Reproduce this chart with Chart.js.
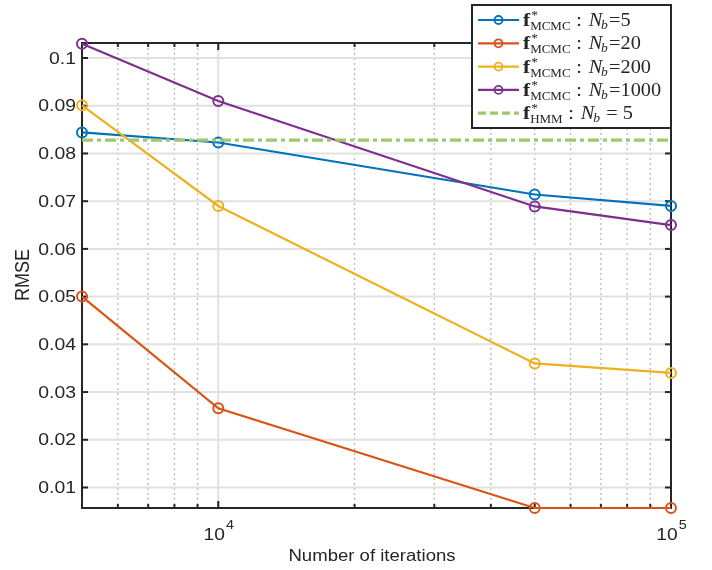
<!DOCTYPE html>
<html>
<head>
<meta charset="utf-8">
<script src="https://cdn.jsdelivr.net/npm/chart.js@4.4.1/dist/chart.umd.min.js"></script>
<style>
  html, body { margin: 0; padding: 0; background: #fff; }
</style>
</head>
<body>
<canvas id="rmseChart" width="712" height="570"></canvas>
<script>
// iterations on the x axis (log scale)
const iterations = [5000, 10000, 50000, 100000];

// RMSE per number of bins
const rmseNb5 = [0.0844, 0.0823, 0.0714, 0.0690];
const rmseNb20 = [0.0500, 0.0266, 0.0057, 0.0057];
const rmseNb200 = [0.0901, 0.0690, 0.0360, 0.0340];
const rmseNb1000 = [0.1030, 0.0910, 0.0689, 0.0650];
const rmseHmm = 0.0828;

const yTicks = [0.01, 0.02, 0.03, 0.04, 0.05, 0.06, 0.07, 0.08, 0.09, 0.1];
const xMajorTicks = [10000, 100000];
const xMinorTicks = [6000, 7000, 8000, 9000, 20000, 30000, 40000, 50000, 60000, 70000, 80000, 90000];

const seriesSub = ['MCMC', 'MCMC', 'MCMC', 'MCMC', 'HMM'];
const seriesNb = ['=5', '=20', '=200', '=1000', ' = 5'];

const colors = ['#0072BD', '#D95319', '#EDB120', '#7E2F8E', '#a0c76c'];

const toPoints = vals => iterations.map((it, i) => ({ x: it, y: vals[i] }));

const mcmcSet = (vals, i) => ({
    label: 'f*_' + seriesSub[i] + ' : N_b' + seriesNb[i],
    data: toPoints(vals),
    borderColor: colors[i],
    borderWidth: 2.2,
    pointRadius: 5,
    pointBorderWidth: 2,
    pointBackgroundColor: 'rgba(0,0,0,0)',
    pointBorderColor: colors[i],
    tension: 0,
    clip: false,
    order: 10 - i
});

const datasets = [
    mcmcSet(rmseNb5, 0),
    mcmcSet(rmseNb20, 1),
    mcmcSet(rmseNb200, 2),
    mcmcSet(rmseNb1000, 3),
    {
        label: 'f*_HMM : N_b = 5',
        data: [{ x: iterations[0], y: rmseHmm }, { x: iterations[iterations.length - 1], y: rmseHmm }],
        borderColor: colors[4],
        borderWidth: 3.2,
        borderDash: [11, 4, 4, 4],
        pointRadius: 0,
        clip: false,
        order: 5
    }
];

const textInk = '#262626';
const sans = '"Liberation Sans", Arial, sans-serif';

function seg(ctx, x1, y1, x2, y2) {
    ctx.beginPath();
    ctx.moveTo(x1, y1);
    ctx.lineTo(x2, y2);
    ctx.stroke();
}

// text stretched horizontally by sx
function wideText(ctx, text, x, y, font, align, sx) {
    ctx.save();
    ctx.translate(x, y);
    ctx.scale(sx, 1);
    ctx.font = font;
    ctx.textAlign = align;
    ctx.fillText(text, 0, 0);
    ctx.restore();
}

const axesFrame = {
    id: 'axesFrame',
    beforeDatasetsDraw(chart) {
        const { ctx, chartArea: a, scales: { x, y } } = chart;
        ctx.save();
        // dotted minor grid
        ctx.strokeStyle = '#bdbdbd';
        ctx.lineWidth = 1.4;
        ctx.setLineDash([2, 3]);
        xMinorTicks.forEach(v => {
            const px = x.getPixelForValue(v);
            seg(ctx, px, a.top, px, a.bottom);
        });
        ctx.setLineDash([]);
        // major grid
        ctx.strokeStyle = '#e1e1e1';
        ctx.lineWidth = 2;
        xMajorTicks.forEach(v => {
            const px = x.getPixelForValue(v);
            seg(ctx, px, a.top, px, a.bottom);
        });
        yTicks.forEach(v => {
            const py = y.getPixelForValue(v);
            seg(ctx, a.left, py, a.right, py);
        });
        // box
        ctx.strokeStyle = textInk;
        ctx.lineWidth = 2;
        ctx.strokeRect(a.left, a.top, a.right - a.left, a.bottom - a.top);
        // inward ticks on all four sides
        yTicks.forEach(v => {
            const py = y.getPixelForValue(v);
            seg(ctx, a.left, py, a.left + 6, py);
            seg(ctx, a.right, py, a.right - 6, py);
        });
        xMajorTicks.forEach(v => {
            const px = x.getPixelForValue(v);
            seg(ctx, px, a.bottom, px, a.bottom - 7);
            seg(ctx, px, a.top, px, a.top + 7);
        });
        xMinorTicks.forEach(v => {
            const px = x.getPixelForValue(v);
            seg(ctx, px, a.bottom, px, a.bottom - 4);
            seg(ctx, px, a.top, px, a.top + 4);
        });
        ctx.restore();
    },
    afterDraw(chart) {
        const { ctx, scales: { x, y } } = chart;
        ctx.save();
        ctx.fillStyle = textInk;
        ctx.textBaseline = 'middle';
        yTicks.forEach(v => {
            wideText(ctx, String(v), 76, y.getPixelForValue(v) + 1, '17px ' + sans, 'right', 1.14);
        });
        // 10^n labels
        const sx = 1.2;
        ctx.textBaseline = 'alphabetic';
        xMajorTicks.forEach(v => {
            const px = x.getPixelForValue(v);
            const exp = String(Math.round(Math.log10(v)));
            ctx.font = '16px ' + sans;
            const wBase = ctx.measureText('10').width * sx;
            ctx.font = '12px ' + sans;
            const wExp = ctx.measureText(exp).width * sx;
            const start = px - (wBase + wExp) / 2;
            wideText(ctx, '10', start, 539.5, '16px ' + sans, 'left', sx);
            wideText(ctx, exp, start + wBase + 1, 529, '12px ' + sans, 'left', sx);
        });
        // axis titles
        wideText(ctx, 'Number of iterations', 372, 561, '16px ' + sans, 'center', 1.16);
        ctx.save();
        ctx.translate(24, 275);
        ctx.scale(1.1, 1);
        ctx.rotate(-Math.PI / 2);
        ctx.font = '18px ' + sans;
        ctx.textAlign = 'center';
        ctx.textBaseline = 'middle';
        ctx.fillText('RMSE', 0, 0);
        ctx.restore();

        drawLegend(ctx);
        ctx.restore();
    }
};

function drawLegend(ctx) {
    const box = { left: 472, top: 5, right: 671, bottom: 128 };
    ctx.save();
    ctx.fillStyle = '#ffffff';
    ctx.fillRect(box.left, box.top, box.right - box.left, box.bottom - box.top);
    ctx.strokeStyle = textInk;
    ctx.lineWidth = 2;
    ctx.strokeRect(box.left, box.top, box.right - box.left, box.bottom - box.top);

    const serif = '"Liberation Serif", "Times New Roman", serif';
    datasets.forEach((ds, i) => {
        const cy = 20 + i * 23.3;
        // line sample
        ctx.strokeStyle = ds.borderColor;
        ctx.lineWidth = ds.borderWidth;
        ctx.setLineDash(ds.pointRadius ? [] : [8, 4]);
        seg(ctx, 478, cy, 519, cy);
        ctx.setLineDash([]);
        if (ds.pointRadius) {
            ctx.lineWidth = 1.8;
            ctx.beginPath();
            ctx.arc(498.5, cy, 4, 0, Math.PI * 2);
            ctx.stroke();
        }
        // f*_sub : N_b = n
        ctx.save();
        ctx.translate(523, cy);
        ctx.scale(1.13, 1);
        ctx.fillStyle = textInk;
        ctx.textBaseline = 'alphabetic';
        ctx.textAlign = 'left';
        let cx = 0;
        ctx.font = 'bold 19px ' + serif;
        ctx.fillText('f', cx, 6);
        cx += ctx.measureText('f').width + 1;
        ctx.font = '12px ' + serif;
        ctx.fillText('*', cx, -1);
        const wStar = ctx.measureText('*').width;
        ctx.font = '11.5px ' + serif;
        ctx.fillText(seriesSub[i], cx - 1, 10);
        const wSub = ctx.measureText(seriesSub[i]).width;
        cx += Math.max(wStar, wSub) + 4;
        ctx.font = '18px ' + serif;
        ctx.fillText(':', cx, 6);
        cx += ctx.measureText(':').width + 6;
        ctx.font = 'italic 18px ' + serif;
        ctx.fillText('N', cx, 6);
        cx += ctx.measureText('N').width - 1;
        ctx.font = 'italic 12px ' + serif;
        ctx.fillText('b', cx, 9);
        cx += ctx.measureText('b').width + 1;
        ctx.font = '18px ' + serif;
        ctx.fillText(seriesNb[i], cx, 6);
        ctx.restore();
    });
    ctx.restore();
}

const ctx = document.getElementById('rmseChart');

const rmseChart = new Chart(ctx, {
    type: 'line',
    data: { datasets: datasets },
    options: {
        responsive: false,
        animation: false,
        layout: { padding: { top: 43, right: 41, left: 0, bottom: 0 } },
        plugins: {
            legend: { display: false },
            tooltip: { enabled: false }
        },
        scales: {
            x: {
                type: 'logarithmic',
                min: 5000,
                max: 100000,
                ticks: { display: false },
                grid: { display: false },
                border: { display: false },
                afterFit(scale) { scale.height = 62; }
            },
            y: {
                type: 'linear',
                min: 0.0057,
                max: 0.10315,
                ticks: { display: false },
                grid: { display: false },
                border: { display: false },
                afterFit(scale) { scale.width = 82; }
            }
        }
    },
    plugins: [axesFrame]
});
</script>
</body>
</html>
